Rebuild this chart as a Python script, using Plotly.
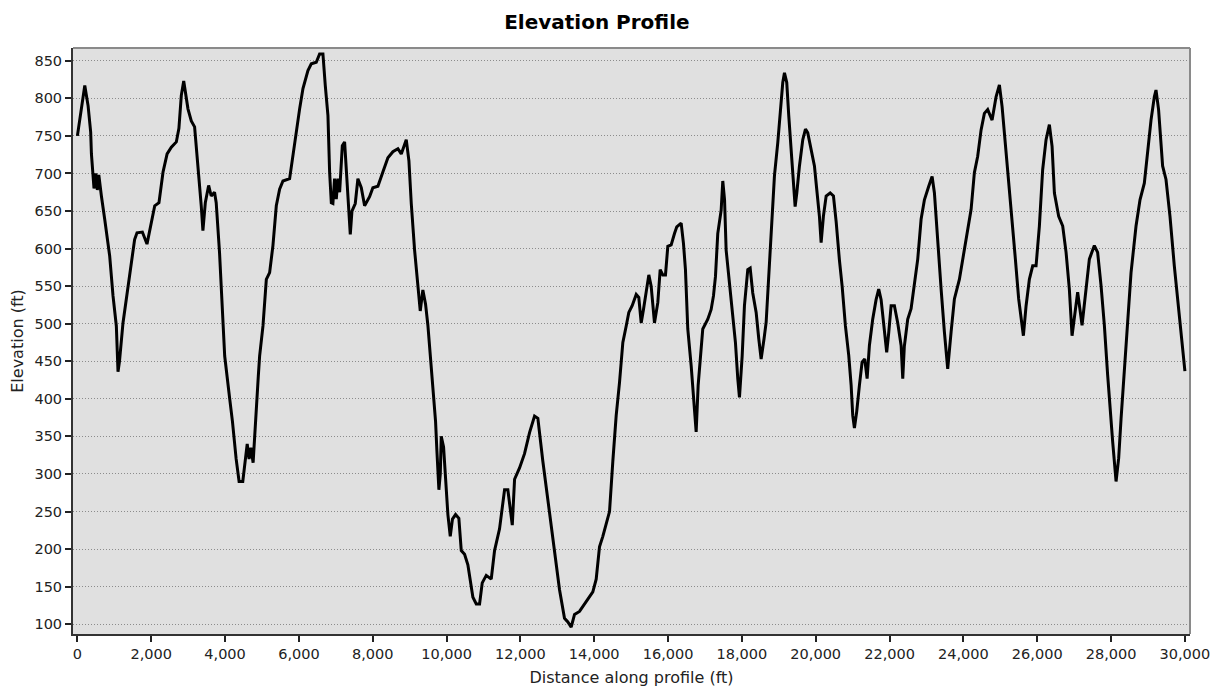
import plotly.graph_objects as go

distance_ft = [
    0, 80, 200, 290, 360, 380, 420, 450, 500, 540, 580, 620, 650, 740, 875, 965, 1055, 1100, 1140,
    1235, 1416, 1550, 1615, 1760, 1885, 1960, 2095, 2210, 2320, 2430, 2545, 2680, 2750, 2815, 2880,
    2995, 3085, 3175, 3265, 3355, 3400, 3465, 3555, 3625, 3715, 3760, 3850, 3925, 3990, 4126, 4200,
    4300, 4380, 4480, 4560, 4600, 4650, 4700, 4760, 4850, 4900, 4936, 5027, 5118, 5207, 5297, 5388,
    5478, 5568, 5749, 5839, 5929, 6020, 6110, 6245, 6336, 6471, 6561, 6651, 6715, 6787, 6832, 6878,
    6921, 6967, 7013, 7057, 7103, 7176, 7238, 7284, 7355, 7392, 7437, 7527, 7598, 7690, 7780, 7915,
    8004, 8140, 8275, 8411, 8546, 8682, 8773, 8863, 8908, 8980, 9044, 9134, 9224, 9287, 9358, 9431,
    9494, 9585, 9648, 9702, 9738, 9792, 9830, 9856, 9919, 9970, 10036, 10100, 10160, 10244, 10333,
    10398, 10488, 10577, 10641, 10713, 10804, 10894, 10966, 11075, 11210, 11300, 11435, 11571, 11660,
    11780, 11842, 11977, 12112, 12248, 12383, 12473, 12608, 12789, 12925, 13060, 13195, 13285, 13376,
    13466, 13601, 13737, 13962, 14053, 14143, 14233, 14414, 14504, 14595, 14685, 14775, 14866, 14937,
    15028, 15137, 15207, 15272, 15334, 15424, 15479, 15542, 15632, 15722, 15786, 15857, 15930, 15993,
    16084, 16174, 16236, 16355, 16417, 16471, 16534, 16626, 16688, 16761, 16815, 16897, 16940, 17076,
    17167, 17230, 17284, 17346, 17438, 17482, 17530, 17573, 17663, 17752, 17825, 17888, 17934, 18007,
    18069, 18159, 18224, 18294, 18386, 18457, 18521, 18600, 18657, 18727, 18792, 18855, 18882, 18972,
    19037, 19107, 19153, 19215, 19269, 19334, 19378, 19442, 19487, 19559, 19649, 19722, 19784, 19876,
    19965, 20027, 20100, 20146, 20208, 20282, 20391, 20480, 20553, 20641, 20715, 20804, 20894, 20959,
    21002, 21048, 21110, 21183, 21256, 21327, 21392, 21454, 21543, 21635, 21706, 21771, 21833, 21922,
    21977, 22042, 22131, 22221, 22313, 22357, 22400, 22491, 22583, 22673, 22763, 22854, 22944, 23061,
    23152, 23215, 23304, 23396, 23485, 23575, 23667, 23756, 23891, 23981, 24116, 24208, 24297, 24387,
    24479, 24568, 24658, 24777, 24885, 24975, 25048, 25137, 25226, 25318, 25408, 25497, 25625, 25698,
    25787, 25877, 25968, 26058, 26147, 26239, 26329, 26402, 26465, 26581, 26690, 26781, 26870, 26943,
    27005, 27095, 27214, 27303, 27412, 27547, 27636, 27728, 27818, 27907, 27972, 28043, 28135, 28206,
    28271, 28360, 28450, 28541, 28676, 28784, 28901, 28990, 29082, 29172, 29217, 29287, 29396, 29488,
    29596, 29713, 29830, 29921, 30000,
]

elevation_ft = [
    750, 775, 817, 790, 755, 726, 702, 680, 700, 678, 698, 680, 670, 639, 590, 537, 497, 436, 450,
    501, 564, 612, 621, 622, 606, 624, 657, 661, 702, 726, 735, 742, 760, 804, 823,
    786, 770, 762, 712, 657, 624, 661, 684, 670, 675, 661, 595, 524, 457, 400, 370,
    320, 290, 290, 330, 340, 320, 335, 315, 380, 430, 457, 497, 559, 568, 604, 657,
    679, 690, 693, 724, 759, 786, 813, 837, 846, 848, 859, 859, 817, 777, 702, 661,
    660, 693, 666, 693, 675, 737, 742, 702, 635, 619, 650, 660, 693, 681, 657, 669,
    681, 683, 702, 721, 729, 733, 726, 740, 745, 717, 660, 598, 555, 517, 545, 526,
    498, 446, 403, 370, 331, 279, 300, 350, 336, 300, 246, 217, 240, 246, 241,
    198, 193, 179, 160, 136, 127, 127, 155, 165, 160, 198, 227, 279, 279,
    232, 293, 308, 327, 355, 377, 374, 317, 250, 193, 146, 108, 103, 96,
    113, 117, 127, 143, 160, 203, 217, 250, 317, 378, 422, 475, 497, 515,
    524, 539, 535, 501, 519, 546, 565, 550, 501, 528, 572, 565, 565, 603,
    605, 620, 629, 634, 607, 572, 493, 444, 400, 356, 418, 466, 493, 506,
    519, 537, 563, 620, 651, 690, 665, 598, 554, 510, 475, 427, 402, 457,
    524, 572, 574, 541, 515, 480, 453, 480, 502, 563, 620, 665, 697, 741,
    786, 821, 834, 821, 777, 732, 697, 656, 674, 710, 745, 759, 754, 732,
    710, 679, 643, 608, 643, 670, 674, 670, 636, 585, 550, 497, 458, 418,
    378, 361, 383, 418, 449, 453, 427, 471, 506, 532, 546, 532, 506, 462,
    488, 524, 524, 501, 471, 427, 470, 506, 520, 551, 586, 639, 665, 683,
    696, 674, 604, 546, 489, 440, 489, 533, 559, 586, 621, 652, 701, 723,
    758, 780, 785, 771, 802, 818, 789, 740, 696, 639, 586, 533, 484, 524,
    559, 577, 577, 630, 705, 745, 765, 736, 674, 643, 630, 595, 546, 484,
    511, 542, 498, 542, 586, 604, 595, 551, 498, 432, 383, 343, 290, 321,
    374, 436, 507, 568, 630, 665, 687, 732, 771, 802, 811, 785, 710, 692,
    643, 577, 520, 471, 437,
]

x_tick_vals = list(range(0, 30001, 2000))
y_tick_vals = list(range(100, 851, 50))

FONT = "DejaVu Sans, Liberation Sans, Arial, sans-serif"
FIG_W, FIG_H = 1219, 679  # page body adds an 8px offset

fig = go.Figure()
fig.add_trace(go.Scatter(
    x=distance_ft, y=elevation_ft, mode="lines",
    line=dict(color="black", width=3),
    hoverinfo="x+y", showlegend=False,
))

fig.update_layout(
    width=FIG_W, height=FIG_H,
    margin=dict(l=65, r=37, t=40, b=53, autoexpand=False),
    paper_bgcolor="white",
    plot_bgcolor="#E0E0E0",
    font=dict(family=FONT, color="#222222", size=14),
    title=dict(text="<b>Elevation Profile</b>", x=0.469, xref="paper", xanchor="center",
               y=1 - 14 / FIG_H, yref="container", yanchor="middle",
               font=dict(family=FONT, size=20, color="black")),
    xaxis=dict(
        range=[-119, 30138], tickmode="array", tickvals=x_tick_vals,
        tickformat=",", ticks="outside", ticklen=6, tickwidth=1.5, tickcolor="#222",
        showgrid=False, zeroline=False, showline=True, linecolor="#333333", linewidth=2,
        mirror=False, automargin=False,
        title=dict(text="Distance along profile (ft)", font=dict(family=FONT, size=16, color="#222"),
                   standoff=12),
        tickfont=dict(family=FONT, size=14.5, color="#222"),
    ),
    yaxis=dict(
        range=[87, 867], tickmode="array", tickvals=y_tick_vals,
        ticks="outside", ticklen=6, tickwidth=1.5, tickcolor="#222",
        showgrid=True, gridcolor="#8C8C8C", griddash="1px,2px", gridwidth=1,
        zeroline=False, showline=True, linecolor="#333333", linewidth=2, mirror=False,
        automargin=False,
        title=dict(text="Elevation (ft)", font=dict(family=FONT, size=16, color="#222"),
                   standoff=8),
        tickfont=dict(family=FONT, size=14.5, color="#222"),
    ),
    shapes=[
        dict(type="line", xref="paper", yref="paper", x0=0, x1=1, y0=1, y1=1,
             line=dict(color="#8A8A8A", width=2)),
        dict(type="line", xref="paper", yref="paper", x0=1, x1=1, y0=0, y1=1,
             line=dict(color="#8A8A8A", width=2)),
    ],
)

fig.write_html("out.html")
